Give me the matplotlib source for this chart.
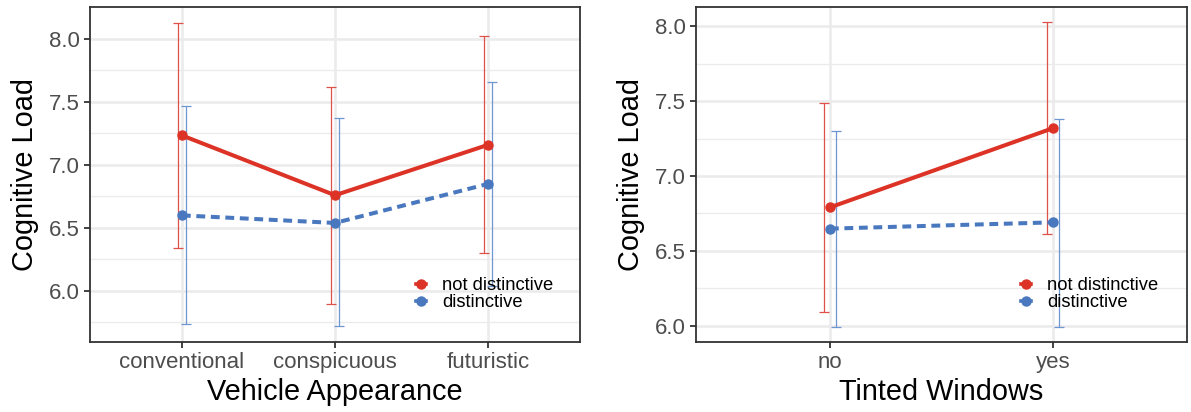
import matplotlib
matplotlib.use("Agg")
import matplotlib.pyplot as plt
from matplotlib.lines import Line2D
import numpy as np

plt.rcParams['font.family'] = ['Liberation Sans', 'DejaVu Sans']

# ---- data ----
groups = ["not distinctive", "distinctive"]

appearance = ["conventional", "conspicuous", "futuristic"]
app_mean_nd = [7.235, 6.76, 7.16]
app_lo_nd = [6.34, 5.90, 6.30]
app_hi_nd = [8.13, 7.62, 8.02]
app_mean_d = [6.60, 6.54, 6.85]
app_lo_d = [5.74, 5.72, 6.04]
app_hi_d = [7.47, 7.37, 7.66]

tinted = ["no", "yes"]
tint_mean_nd = [6.79, 7.32]
tint_lo_nd = [6.09, 6.61]
tint_hi_nd = [7.49, 8.03]
tint_mean_d = [6.648, 6.69]
tint_lo_d = [5.99, 5.99]
tint_hi_d = [7.30, 7.38]

RED = "#DC3326"
BLUE = "#4A78BE"
RED_EB = "#E0504A"
BLUE_EB = "#6E97D2"

W, H = 1191, 412
fig = plt.figure(figsize=(W / 100, H / 100), dpi=100)

def px_axes(x0, x1, y0, y1):
    return fig.add_axes([x0 / W, 1 - y1 / H, (x1 - x0) / W, (y1 - y0) / H])

ax1 = px_axes(90, 580, 7, 342)
ax2 = px_axes(696, 1187, 7, 342)

def draw(ax, cats, m_nd, lo_nd, hi_nd, m_d, lo_d, hi_d, ylim, xlabel, dodge, leg_x):
    x = np.arange(len(cats))
    ax.set_facecolor("white")
    # grid
    yt_major = [6.0, 6.5, 7.0, 7.5, 8.0]
    yt_minor = [5.75, 6.25, 6.75, 7.25, 7.75]
    for v in yt_minor:
        ax.axhline(v, color="#EBEBEB", lw=1.0, zorder=0)
    for v in yt_major:
        ax.axhline(v, color="#EBEBEB", lw=1.8, zorder=0)
    for v in x:
        ax.axvline(v, color="#EBEBEB", lw=1.8, zorder=0)
    # error bars (dodged)
    ax.errorbar(x - dodge, m_nd, yerr=[np.array(m_nd) - np.array(lo_nd), np.array(hi_nd) - np.array(m_nd)],
                fmt="none", ecolor=RED_EB, elinewidth=0.9, capsize=3.5, capthick=0.9, zorder=2)
    ax.errorbar(x + dodge, m_d, yerr=[np.array(m_d) - np.array(lo_d), np.array(hi_d) - np.array(m_d)],
                fmt="none", ecolor=BLUE_EB, elinewidth=0.9, capsize=3.5, capthick=0.9, zorder=2)
    # lines + points
    ax.plot(x, m_nd, color=RED, lw=2.9, solid_capstyle="butt", zorder=3)
    ax.plot(x, m_d, color=BLUE, lw=2.9, dashes=(2.2, 1.4), zorder=3)
    ax.plot(x, m_nd, "o", color=RED, ms=6.5, zorder=4)
    ax.plot(x, m_d, "o", color=BLUE, ms=6.5, zorder=4)

    ax.set_xlim(-0.6, len(cats) - 1 + 0.6)
    ax.set_ylim(*ylim)
    ax.set_xticks(x)
    ax.set_xticklabels(cats)
    ax.set_yticks(yt_major)
    ax.set_yticklabels([f"{v:.1f}" for v in yt_major])
    ax.tick_params(axis="both", colors="#333333", labelcolor="#4D4D4D",
                   labelsize=16, length=4.5, width=1.3, pad=3)
    for s in ax.spines.values():
        s.set_color("#333333")
        s.set_linewidth(1.3)
    ax.set_xlabel(xlabel, fontsize=20.8, color="black", labelpad=3)
    ax.set_ylabel("Cognitive Load", fontsize=20.8, color="black", labelpad=7)

    handles = [
        Line2D([0], [0], color=RED, marker="o", ms=6.5, lw=2.6),
        Line2D([0], [0], color=BLUE, marker="o", ms=6.5, lw=2.6),
    ]
    leg = ax.legend(handles, groups, loc="lower right", bbox_to_anchor=(leg_x, 0.092),
                    frameon=True, fontsize=13.2, handlelength=0.55, handletextpad=0.85,
                    labelspacing=0.0, borderaxespad=0.0, borderpad=0.0)
    leg.get_frame().set_facecolor("white")
    leg.get_frame().set_edgecolor("none")
    leg.get_frame().set_alpha(0.0)

draw(ax1, appearance, app_mean_nd, app_lo_nd, app_hi_nd, app_mean_d, app_lo_d, app_hi_d,
     (5.595, 8.254), "Vehicle Appearance", 0.025, 0.945)
draw(ax2, tinted, tint_mean_nd, tint_lo_nd, tint_hi_nd, tint_mean_d, tint_lo_d, tint_hi_d,
     (5.89, 8.13), "Tinted Windows", 0.026, 0.941)

fig.savefig("out.png", dpi=100)
